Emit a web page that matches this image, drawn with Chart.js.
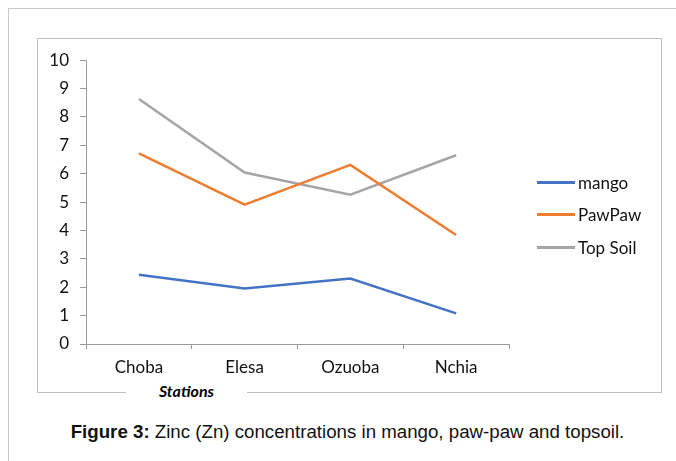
<!DOCTYPE html>
<html>
<head>
<meta charset="utf-8">
<script src="https://cdn.jsdelivr.net/npm/chart.js@4"></script>
<style>
    body { margin: 0; width: 676px; height: 461px; overflow: hidden; background: #fff; position: relative; }
    #frame { position: absolute; left: 8px; top: 8px; width: 720px; height: 520px; border: 1px solid #c8c8c8; }
    #box { position: absolute; left: 37px; top: 38px; width: 623px; height: 353px; border: 1px solid #bfbfbf; }
    #wrap { position: absolute; left: 38px; top: 39px; width: 622px; height: 351px; }
    #xtitle { position: absolute; left: 126px; top: 381px; width: 121px; height: 22px; line-height: 22px; background: #fff;
        text-align: center; font: italic bold 16px Lato, sans-serif; color: #000; }
    #legend { position: absolute; left: 537px; top: 166px; font: 17px Lato, sans-serif; color: #111; }
    .item { height: 32.5px; display: flex; align-items: center; }
    .swatch { width: 38px; height: 3px; margin-right: 3px; }
    #caption { position: absolute; left: 0; width: 695px; top: 421px; text-align: center;
        font: 18.7px "Liberation Sans", Arial, sans-serif; color: #111; }
</style>
</head>
<body>
<div id="frame"></div>
<div id="box"></div>
<div id="wrap"><canvas id="myChart"></canvas></div>
<div id="xtitle">Stations</div>
<div id="legend"></div>
<div id="caption"><b>Figure 3:</b> Zinc (Zn) concentrations in mango, paw-paw and topsoil.</div>
<script>
    // chart values
    const stations = ['Choba', 'Elesa', 'Ozuoba', 'Nchia'];
    const mango = [2.44, 1.96, 2.31, 1.08];
    const pawpaw = [6.72, 4.91, 6.31, 3.84];
    const topSoil = [8.63, 6.04, 5.26, 6.65];
    const yTicks = [0, 1, 2, 3, 4, 5, 6, 7, 8, 9, 10];

    const seriesNames = ['mango', 'PawPaw', 'Top Soil'];
    const seriesColors = ['#4472c4', '#ed7d31', '#a5a5a5'];
    const seriesData = [mango, pawpaw, topSoil];

    let datasets = [];
    for (let i = 0; i < seriesNames.length; i++) {
        datasets.push({
            label: seriesNames[i],
            data: seriesData[i],
            borderColor: seriesColors[i],
            backgroundColor: seriesColors[i],
            borderWidth: 2.5,
            pointRadius: 0,
            tension: 0
        });
    }

    const tickFont = { family: 'Lato', size: 17 };

    const ctx = document.getElementById('myChart').getContext('2d');
    const myChart = new Chart(ctx, {
        type: 'line',
        data: { labels: stations, datasets: datasets },
        options: {
            responsive: true,
            maintainAspectRatio: false,
            animation: false,
            layout: { padding: { left: 0, top: 20, right: 151, bottom: 0 } },
            plugins: { legend: { display: false }, tooltip: { enabled: false } },
            scales: {
                x: {
                    offset: true,
                    grid: { offset: true, drawOnChartArea: false, tickLength: 5, color: '#999' },
                    border: { color: '#999', width: 1 },
                    ticks: { font: tickFont, color: '#111', padding: 8 },
                    afterFit: function (scale) { scale.height = 46; }
                },
                y: {
                    min: 0,
                    max: 10,
                    afterBuildTicks: function (scale) {
                        scale.ticks = yTicks.map(v => ({ value: v }));
                    },
                    grid: { drawOnChartArea: false, tickLength: 6, color: '#999' },
                    border: { color: '#999', width: 1 },
                    ticks: { font: tickFont, color: '#111', padding: 11 },
                    afterFit: function (scale) { scale.width = 48; }
                }
            }
        }
    });

    // legend built from the datasets
    let legend = document.getElementById('legend');
    myChart.data.datasets.forEach(function (ds) {
        let row = document.createElement('div');
        row.className = 'item';
        row.innerHTML = '<div class="swatch" style="background:' + ds.borderColor + '"></div>' + ds.label;
        legend.appendChild(row);
    });
</script>
</body>
</html>
